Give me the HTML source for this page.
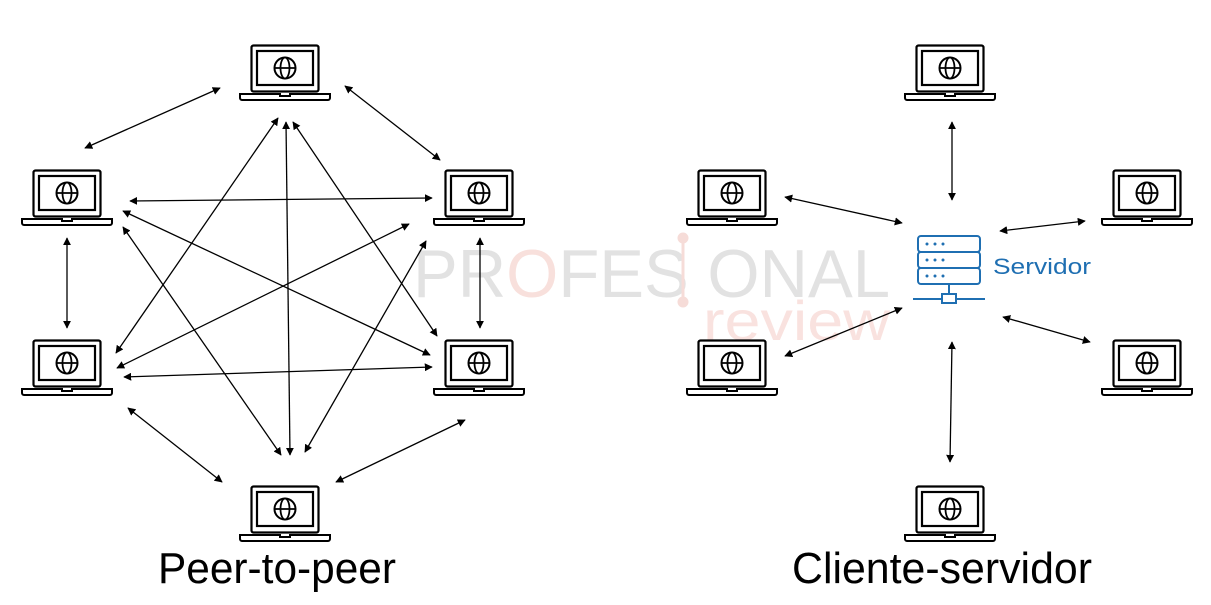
<!DOCTYPE html>
<html><head><meta charset="utf-8"><style>
html,body{margin:0;padding:0;background:#fff;}
svg{display:block;}
</style></head><body>
<svg width="1211" height="605" viewBox="0 0 1211 605" xmlns="http://www.w3.org/2000/svg">
<defs>
<marker id="a" viewBox="0 0 10 10" refX="9" refY="5" markerWidth="8" markerHeight="8" markerUnits="userSpaceOnUse" orient="auto-start-reverse">
<path d="M0,0 L10,5 L0,10 z" fill="#000"/></marker>
<g id="lap">
<rect x="-33.5" y="-21.5" width="67" height="46" rx="2" fill="none" stroke="#000" stroke-width="2.2"/>
<rect x="-28" y="-16" width="56" height="34" fill="none" stroke="#000" stroke-width="2.2"/>
<circle cx="0" cy="1" r="10.5" fill="none" stroke="#000" stroke-width="2"/>
<ellipse cx="0" cy="1" rx="4.5" ry="10.5" fill="none" stroke="#000" stroke-width="1.8"/>
<line x1="-10.5" y1="1" x2="10.5" y2="1" stroke="#000" stroke-width="1.8"/>
<path d="M-45,27 H-5 v2 h10 v-2 H45 v4 a2,2 0 0 1 -2,2 H-43 a2,2 0 0 1 -2,-2 z" fill="none" stroke="#000" stroke-width="2"/>
</g>
</defs>

<!-- watermark -->
<g font-family="Liberation Sans, sans-serif" font-size="68">
<text x="413" y="297" fill="#e2e2e2" textLength="477" lengthAdjust="spacingAndGlyphs">PR<tspan fill="#f8e0dc">O</tspan>FES ONAL</text>
<text x="703" y="340" fill="#f9e2df" font-size="56" textLength="187" lengthAdjust="spacingAndGlyphs">review</text>
</g>
<g fill="#f6dcd8" stroke="#f6dcd8"><circle cx="683" cy="238" r="5"/><circle cx="683" cy="302" r="5"/><line x1="683" y1="240" x2="683" y2="300" stroke-width="3"/></g>

<!-- laptops -->
<use href="#lap" x="285" y="67"/>
<use href="#lap" x="67" y="192"/>
<use href="#lap" x="479" y="192"/>
<use href="#lap" x="67" y="362"/>
<use href="#lap" x="479" y="362"/>
<use href="#lap" x="285" y="508"/>
<use href="#lap" x="950" y="67"/>
<use href="#lap" x="732" y="192"/>
<use href="#lap" x="1147" y="192"/>
<use href="#lap" x="732" y="362"/>
<use href="#lap" x="1147" y="362"/>
<use href="#lap" x="950" y="508"/>

<g stroke="#000" stroke-width="1.3" marker-start="url(#a)" marker-end="url(#a)">
<line x1="85" y1="148" x2="220" y2="88"/>
<line x1="345" y1="86" x2="440" y2="160"/>
<line x1="67" y1="238" x2="67" y2="328"/>
<line x1="480" y1="238" x2="480" y2="328"/>
<line x1="128" y1="408" x2="222" y2="482"/>
<line x1="336" y1="482" x2="465" y2="420"/>
<line x1="130" y1="201" x2="432" y2="198"/>
<line x1="124" y1="377" x2="432" y2="367"/>
<line x1="123" y1="211" x2="430" y2="355"/>
<line x1="123" y1="227" x2="281" y2="455"/>
<line x1="409" y1="224" x2="117" y2="368"/>
<line x1="426" y1="241" x2="305" y2="452"/>
<line x1="116" y1="353" x2="278" y2="118"/>
<line x1="293" y1="122" x2="437" y2="336"/>
<line x1="286" y1="122" x2="290" y2="455"/>

<line x1="952" y1="122" x2="952" y2="200"/>
<line x1="785" y1="197" x2="902" y2="223"/>
<line x1="1000" y1="231" x2="1085" y2="221"/>
<line x1="785" y1="356" x2="902" y2="308"/>
<line x1="1003" y1="317" x2="1090" y2="342"/>
<line x1="952" y1="342" x2="950" y2="462"/>
</g>

<!-- server -->
<g fill="none" stroke="#1f6fb2" stroke-width="2">
<rect x="918" y="236" width="62" height="16" rx="3"/>
<rect x="918" y="252" width="62" height="16" rx="3"/>
<rect x="918" y="268" width="62" height="16" rx="3"/>
<line x1="949" y1="284" x2="949" y2="293"/>
<line x1="913" y1="299" x2="985" y2="299"/>
<rect x="942" y="294" width="14" height="9" fill="#fff"/>
</g>
<g fill="#1f6fb2">
<circle cx="927" cy="244" r="1.5"/><circle cx="935" cy="244" r="1.5"/><circle cx="943" cy="244" r="1.5"/>
<circle cx="927" cy="260" r="1.5"/><circle cx="935" cy="260" r="1.5"/><circle cx="943" cy="260" r="1.5"/>
<circle cx="927" cy="276" r="1.5"/><circle cx="935" cy="276" r="1.5"/><circle cx="943" cy="276" r="1.5"/>
</g>
<text x="993" y="274" font-family="Liberation Sans, sans-serif" font-size="22" fill="#1f6fb2" textLength="98" lengthAdjust="spacingAndGlyphs">Servidor</text>

<g font-family="Liberation Sans, sans-serif" font-size="44" fill="#000">
<text x="158" y="583" textLength="238" lengthAdjust="spacingAndGlyphs">Peer-to-peer</text>
<text x="792" y="583" textLength="300" lengthAdjust="spacingAndGlyphs">Cliente-servidor</text>
</g>
</svg>
</body></html>
